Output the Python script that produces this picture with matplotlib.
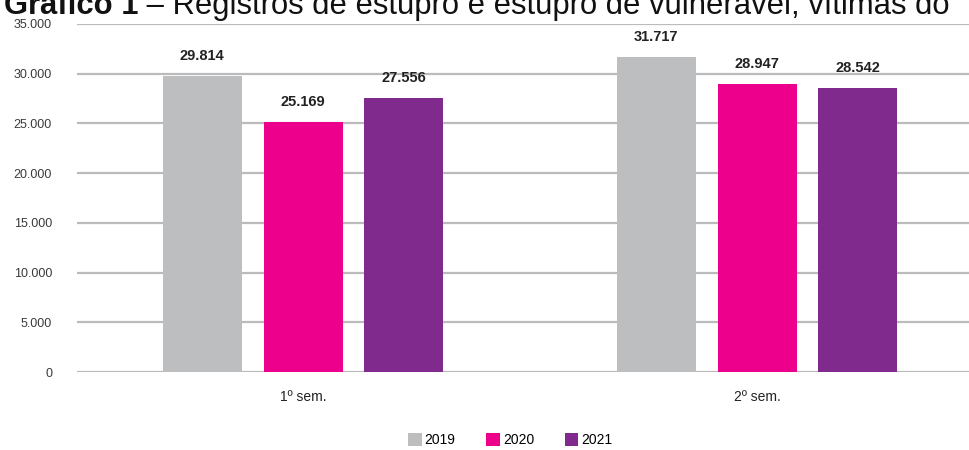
import numpy as np
import matplotlib.pyplot as plt

# dados
semestres = ["1º sem.", "2º sem."]
anos = ["2019", "2020", "2021"]
v2019 = [29814, 31717]
v2020 = [25169, 28947]
v2021 = [27556, 28542]
cores = ["#BDBEC0", "#EC008C", "#7F2A8C"]

fam = ["Liberation Sans", "DejaVu Sans"]

def fmt(v):
    return f"{v:,}".replace(",", ".")

fig = plt.figure(figsize=(9.7, 4.5), dpi=100)
ax = fig.add_axes([0.0794, 0.1733, 0.9206, 0.7734])

x = np.arange(len(semestres))
w = 0.174
passo = 0.222
for i, (vals, cor, ano) in enumerate(zip([v2019, v2020, v2021], cores, anos)):
    pos = x + (i - 1) * passo
    ax.bar(pos, vals, width=w, color=cor, label=ano, zorder=3)
    for p, v in zip(pos, vals):
        ax.text(p, v + 1300, fmt(v), ha="center", va="bottom", fontsize=10.5,
                fontweight="bold", family=fam, color="#222222")

ax.set_xlim(-0.498, 1.469)
ax.set_ylim(0, 35000)
ax.set_yticks(range(0, 35001, 5000))
ax.set_yticklabels([fmt(t) for t in range(0, 35001, 5000)], family=fam,
                   fontsize=9, color="#3a3a3a")
ax.set_xticks(x)
ax.set_xticklabels(semestres, family=fam, fontsize=10, color="#222222")
ax.tick_params(length=0)
ax.tick_params(axis="x", pad=13)
ax.tick_params(axis="y", pad=18)
ax.yaxis.grid(True, color="#BBBBBB", lw=1.6, zorder=0)
for s in ax.spines.values():
    s.set_visible(False)

leg = fig.legend(loc="center", ncol=3, bbox_to_anchor=(0.526, 0.022),
                 frameon=False, handlelength=1.0, handleheight=1.0,
                 handletextpad=0.2, columnspacing=2.2,
                 prop={"family": fam, "size": 10})

# título cortado no topo, como na figura original
t1 = fig.text(0.004, 1 - 14 / 450, "Gráfico 1", ha="left", va="baseline",
              fontsize=22.3, fontweight="bold", family=fam, color="#111111")
fig.canvas.draw()
bb = t1.get_window_extent()
fig.text(bb.x1 / fig.bbox.width, 1 - 14 / 450,
         " – Registros de estupro e estupro de vulnerável, vítimas do",
         ha="left", va="baseline", fontsize=22.3, family=fam, color="#111111")

fig.savefig("out.png", dpi=100)
